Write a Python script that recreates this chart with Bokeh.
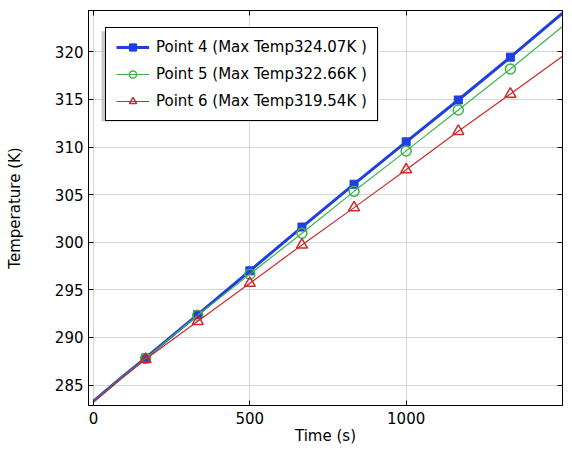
from bokeh.plotting import figure
from bokeh.models import (Range1d, LinearAxis, Legend, LegendItem,
                          FixedTicker, ColumnDataSource)
from bokeh.embed import file_html
from bokeh.resources import INLINE

# ---- data ----
time_s = [0, 83.3, 166.7, 333.3, 500, 666.7, 833.3, 1000, 1166.7, 1333.3, 1500]
point4 = [283.3, 285.62, 287.85, 292.4, 297.0, 301.6, 306.1, 310.55, 314.95, 319.45, 324.07]
point5 = [283.3, 285.6, 287.8, 292.33, 296.65, 300.95, 305.35, 309.6, 313.9, 318.2, 322.66]
point6 = [283.3, 285.57, 287.7, 291.7, 295.7, 299.72, 303.64, 307.63, 311.66, 315.57, 319.54]
labels = ["Point 4 (Max Temp324.07K )", "Point 5 (Max Temp322.66K )", "Point 6 (Max Temp319.54K )"]
x_ticks = [0, 500, 1000]
y_ticks = [285, 290, 295, 300, 305, 310, 315, 320]

X0, X1 = -16, 1500
Y0, Y1 = 282.85, 324.35
W, H = 564, 447
ML, MR, MT, MB = 88, 2, 10, 38
FW, FH = W - ML - MR, H - MT - MB

FONT = "DejaVu Sans"
FS = "15px"

p = figure(width=W, height=H, output_backend="svg", toolbar_location=None,
           x_range=Range1d(X0, X1), y_range=Range1d(Y0, Y1),
           min_border_left=ML, min_border_right=MR, min_border_top=MT, min_border_bottom=MB,
           x_axis_label="Time (s)", y_axis_label="Temperature (K)")
p.background_fill_color = "white"
p.border_fill_color = "white"
p.outline_line_color = "black"
p.outline_line_width = 1

for ax in (p.xaxis[0], p.yaxis[0]):
    ax.major_label_text_font = FONT
    ax.major_label_text_font_size = FS
    ax.major_label_text_color = "black"
    ax.axis_label_text_font = FONT
    ax.axis_label_text_font_size = FS
    ax.axis_label_text_font_style = "normal"
    ax.axis_label_text_color = "black"
    ax.axis_line_color = "black"
    ax.major_tick_line_color = "black"
    ax.major_tick_in = 5
    ax.major_tick_out = 0
    ax.minor_tick_line_color = None
p.xaxis[0].ticker = FixedTicker(ticks=x_ticks)
p.yaxis[0].ticker = FixedTicker(ticks=y_ticks)
p.xaxis[0].major_label_standoff = 6
p.xaxis[0].axis_label_standoff = 0
p.yaxis[0].major_label_standoff = 5
p.yaxis[0].axis_label_standoff = 28

p.xgrid[0].ticker = FixedTicker(ticks=x_ticks)
p.ygrid[0].ticker = FixedTicker(ticks=y_ticks)
for g in (p.xgrid[0], p.ygrid[0]):
    g.grid_line_color = "#d6d6d6"
    g.grid_line_width = 1

# mirrored axes (ticks only, labels not drawn)
top = LinearAxis(ticker=FixedTicker(ticks=x_ticks))
right = LinearAxis(ticker=FixedTicker(ticks=y_ticks))
for ax in (top, right):
    ax.major_label_text_font_size = "1px"
    ax.major_label_text_color = None
    ax.major_label_standoff = 0
    ax.major_tick_in = 5
    ax.major_tick_out = 0
    ax.minor_tick_line_color = None
    ax.axis_line_color = "black"
    ax.major_tick_line_color = "black"
p.add_layout(top, "above")
p.add_layout(right, "right")

# legend drop shadow: pixel offsets from the frame's top-left, converted to data units
def px_x(px):
    return X0 + px / FW * (X1 - X0)
def px_y(py):
    return Y1 - py / FH * (Y1 - Y0)
p.quad(left=[px_x(13)], right=[px_x(290)], top=[px_y(21)], bottom=[px_y(112)],
       fill_color="#bdbdbd", fill_alpha=0.8, line_color=None)

src = ColumnDataSource(dict(t=time_s, p4=point4, p5=point5, p6=point6))
msrc = ColumnDataSource(dict(t=time_s[2:-1], p4=point4[2:-1], p5=point5[2:-1], p6=point6[2:-1]))

BLUE, GREEN, RED = "#1f3fe0", "#3cb44a", "#cc2a2a"

l4 = p.line("t", "p4", source=src, line_color=BLUE, line_width=3)
m4 = p.scatter("t", "p4", source=msrc, marker="square", size=8, fill_color=BLUE, line_color=BLUE)
l5 = p.line("t", "p5", source=src, line_color=GREEN, line_width=1.2)
m5 = p.scatter("t", "p5", source=msrc, marker="circle", size=10, fill_color=None,
               line_color=GREEN, line_width=1.5)
l6 = p.line("t", "p6", source=src, line_color=RED, line_width=1.2)
m6 = p.scatter("t", "p6", source=msrc, marker="triangle", size=11, fill_color=None,
               line_color=RED, line_width=1.5)

legend = Legend(items=[LegendItem(label=labels[0], renderers=[l4, m4]),
                       LegendItem(label=labels[1], renderers=[l5, m5]),
                       LegendItem(label=labels[2], renderers=[l6, m6])],
                location="top_left", margin=17, padding=10, spacing=9,
                glyph_width=33, glyph_height=18, label_height=18, label_standoff=7,
                label_text_font=FONT, label_text_font_size=FS, label_text_color="black",
                border_line_color="black", border_line_width=1, border_line_alpha=1,
                background_fill_color="white", background_fill_alpha=1)
p.add_layout(legend, "center")

open("out.html", "w").write(file_html(p, INLINE))
